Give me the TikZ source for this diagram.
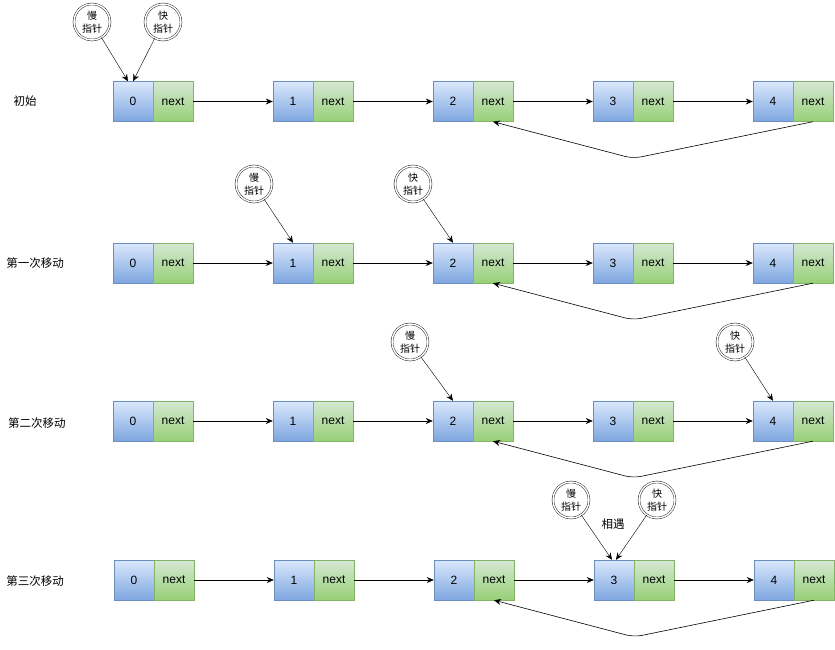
\documentclass[tikz,border=0pt]{standalone}
\usepackage{fontspec}
\setmainfont{Liberation Sans}
\newfontfamily\cjk{Noto Sans CJK SC}
\usetikzlibrary{arrows.meta,shapes.geometric}
\definecolor{bS}{HTML}{6C8EBF}\definecolor{bT}{HTML}{DAE8FC}\definecolor{bB}{HTML}{7EA6E0}
\definecolor{gS}{HTML}{82B366}\definecolor{gT}{HTML}{D5E8D4}\definecolor{gB}{HTML}{97D077}
\tikzset{
 val/.style={draw=bS,top color=bT,bottom color=bB,minimum width=40pt,minimum height=40pt,inner sep=0pt,font=\fontsize{12}{14}\selectfont},
 nxt/.style={draw=gS,top color=gT,bottom color=gB,minimum width=40pt,minimum height=40pt,inner sep=0pt,font=\fontsize{12}{14}\selectfont},
 ptr/.style={circle,draw,double,double distance=1.5pt,minimum size=36pt,inner sep=0pt,align=center,font=\cjk\fontsize{10}{13}\selectfont},
 arr/.style={-{Stealth[length=7pt,width=6pt]},line width=0.6pt},
 parr/.style={-{Stealth[length=7pt,width=6pt]},line width=0.4pt},
 lab/.style={font=\cjk\fontsize{11.5}{13}\selectfont},
}
\begin{document}
\begin{tikzpicture}[x=1pt,y=-1pt]
\useasboundingbox (0,0) rectangle (835,650);
\foreach \r/\y/\dx in {1/101.5/0,2/263/0,3/421/0,4/580/1}{
  \foreach \i in {0,...,4}{
    \node[val] (r\r v\i) at (133+160*\i+\dx,\y) {\i};
    \node[nxt] (r\r n\i) at (173+160*\i+\dx,\y) {next};
  }
  \foreach \i/\j in {0/1,1/2,2/3,3/4}{
    \draw[arr] (r\r n\i.east) -- (r\r v\j.west);
  }
  \coordinate (r\r b) at (633+\dx,\y+57);
  \draw[arr,rounded corners=8pt] (r\r n4.south) -- (r\r b) -- (r\r n2.south);
}
\node[lab] (l1) at (25,101) {初始};
\node[lab] (l2) at (35,263) {第一次移动};
\node[lab] (l3) at (37,423) {第二次移动};
\node[lab] (l4) at (35,581) {第三次移动};
\node[ptr] (s1) at (92,22) {慢\\指针};
\node[ptr] (f1) at (163,22) {快\\指针};
\draw[parr] (s1) -- ([xshift=-5pt]r1v0.north);
\draw[parr] (f1) -- (r1v0.north);
\node[ptr] (s2) at (254,184) {慢\\指针};
\node[ptr] (f2) at (413,184) {快\\指针};
\draw[parr] (s2) -- (r2v1.north);
\draw[parr] (f2) -- (r2v2.north);
\node[ptr] (s3) at (410,342) {慢\\指针};
\node[ptr] (f3) at (735,342) {快\\指针};
\draw[parr] (s3) -- (r3v2.north);
\draw[parr] (f3) -- (r3v4.north);
\node[ptr] (s4) at (571,500) {慢\\指针};
\node[ptr] (f4) at (657,500) {快\\指针};
\draw[parr] (s4) -- ([xshift=-2pt]r4v3.north);
\draw[parr] (f4) -- ([xshift=2pt]r4v3.north);
\node[lab] (meet) at (613,524) {相遇};
\end{tikzpicture}
\end{document}
